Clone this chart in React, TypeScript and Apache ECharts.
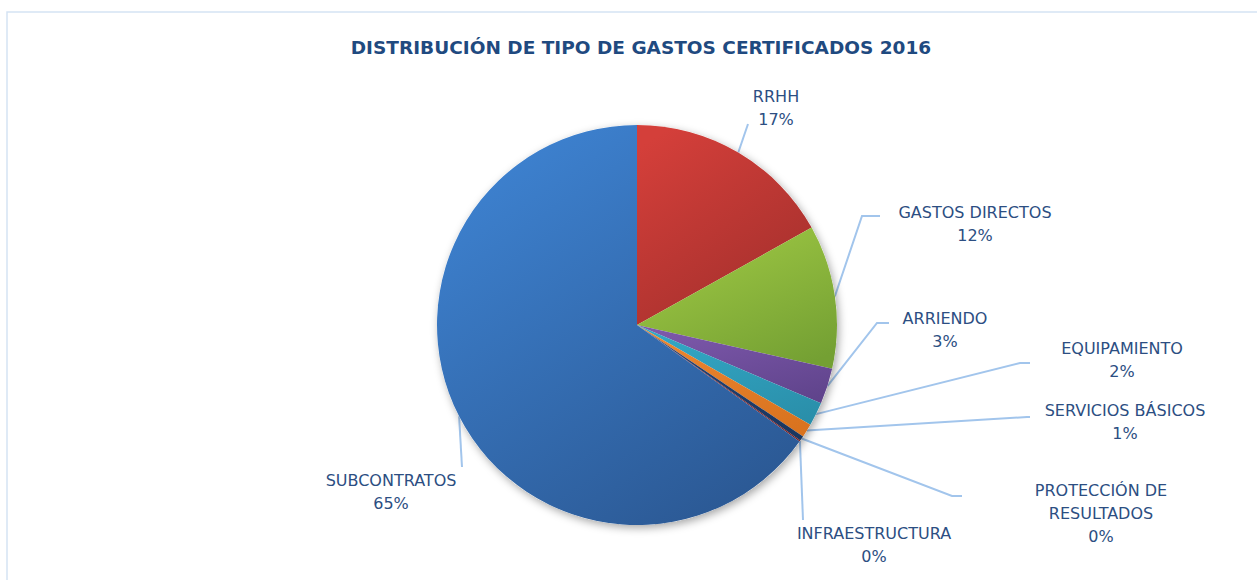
import React, { useEffect, useRef } from "react";
import * as echarts from "echarts";

const title = "DISTRIBUCIÓN DE TIPO DE GASTOS CERTIFICADOS 2016";
const categories = [
  "RRHH",
  "GASTOS DIRECTOS",
  "ARRIENDO",
  "EQUIPAMIENTO",
  "SERVICIOS BÁSICOS",
  "PROTECCIÓN DE\nRESULTADOS",
  "INFRAESTRUCTURA",
  "SUBCONTRATOS",
];
const values = [16.9, 11.6, 2.9, 1.9, 1.1, 0.4, 0.1, 65.1];

// colour pairs (light, dark) per slice
const colors: [string, string][] = [
  ["#d43f3a", "#a22f2c"],
  ["#a0c944", "#74a033"],
  ["#7d58ab", "#60448c"],
  ["#33a8c6", "#2a8faa"],
  ["#ec8630", "#d9731f"],
  ["#24467a", "#1a365f"],
  ["#9a2222", "#7c1515"],
  ["#3e83d2", "#2b5893"],
];

// label layout: [centerX, centerY, elbowX, elbowY, endX, endY]
const labelPos: number[][] = [
  [776, 108, 748, 124, 748, 124],
  [975, 224, 862, 216, 880, 216],
  [945, 330, 877, 323, 889, 323],
  [1122, 360, 1020, 363, 1030, 363],
  [1125, 422, 1027, 417, 1030, 417],
  [1101, 513, 952, 496, 962, 496],
  [874, 545, 803, 520, 803, 520],
  [391, 492, 462, 467, 462, 467],
];

export default function App() {
  const ref = useRef<HTMLDivElement>(null);
  useEffect(() => {
    if (!ref.current) return;
    const chart = echarts.init(ref.current, null, { renderer: "svg" });
    const data = categories.map((name, i) => ({
      name,
      value: values[i],
      itemStyle: {
        color: new echarts.graphic.LinearGradient(0.2, 0, 0.8, 1, [
          { offset: 0, color: colors[i][0] },
          { offset: 1, color: colors[i][1] },
        ]),
      },
    }));
    chart.setOption({
      animation: false,
      backgroundColor: "#ffffff",
      title: {
        text: title,
        left: 636,
        top: 33,
        textAlign: "center",
        textStyle: {
          color: "#1f4a80",
          fontFamily: "DejaVu Sans",
          fontWeight: "bold",
          fontSize: 18.5,
        },
      },
      graphic: [
        {
          type: "rect",
          shape: { x: 7, y: 12, width: 1270, height: 600 },
          style: { fill: "none", stroke: "#d5e3f4", lineWidth: 1.5 },
          silent: true,
        },
      ],
      series: [
        {
          type: "pie",
          center: [637, 325],
          radius: 200,
          silent: true,
          startAngle: 90,
          label: { show: false },
          labelLine: { show: false },
          data: [
            {
              value: 1,
              itemStyle: {
                color: "#ffffff",
                shadowBlur: 8,
                shadowOffsetX: 2,
                shadowOffsetY: 3,
                shadowColor: "rgba(0,0,0,0.35)",
              },
            },
          ],
        },
        {
          type: "pie",
          center: [637, 325],
          radius: 200,
          startAngle: 90,
          clockwise: true,
          percentPrecision: 0,
          avoidLabelOverlap: false,
          itemStyle: { borderWidth: 0 },
          label: {
            show: true,
            position: "outside",
            formatter: "{b}\n{d}%",
            color: "#2c4e82",
            fontFamily: "DejaVu Sans",
            fontSize: 16,
            lineHeight: 23,
            align: "center",
          },
          labelLine: {
            show: true,
            length: 10,
            length2: 10,
            lineStyle: { color: "#a2c5ec", width: 2 },
          },
          labelLayout: (params: any) => {
            const p = labelPos[params.dataIndex];
            const start = params.labelLinePoints
              ? params.labelLinePoints[0]
              : [p[2], p[3]];
            return {
              x: p[0],
              y: p[1],
              align: "center",
              verticalAlign: "middle",
              labelLinePoints: [start, [p[2], p[3]], [p[4], p[5]]],
            };
          },
          data,
        },
      ],
    });
    return () => chart.dispose();
  }, []);
  return (
    <div
      ref={ref}
      style={{ position: "fixed", left: 0, top: 0, width: 1257, height: 580 }}
    />
  );
}
